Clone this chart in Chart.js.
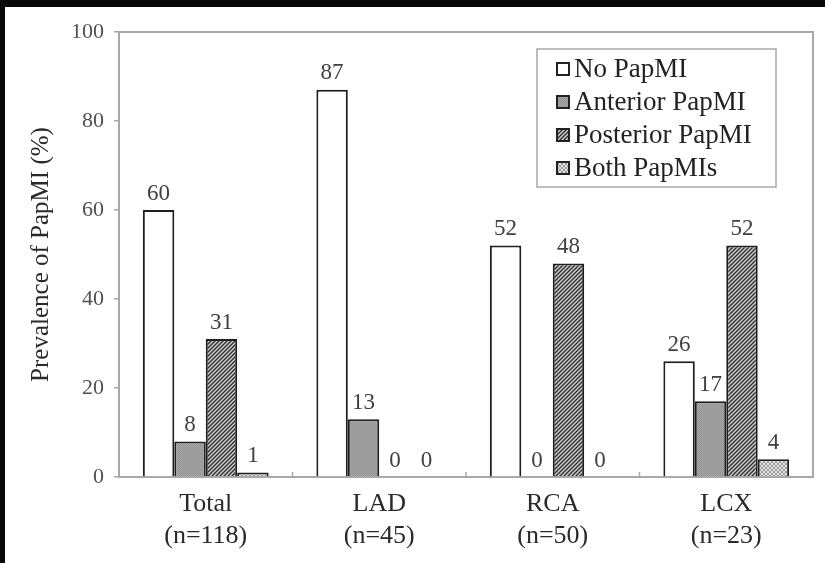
<!DOCTYPE html>
<html>
<head>
<meta charset="utf-8">
<script src="https://cdn.jsdelivr.net/npm/chart.js@4.4.1/dist/chart.umd.min.js"></script>
<style>
    html, body { margin: 0; padding: 0; background: #080808; }
    #wrap { position: absolute; left: 5px; top: 7px; width: 820px; height: 556px; background: #fff; }
</style>
</head>
<body>
<div id="wrap"><canvas id="chart" width="820" height="556"></canvas></div>
<script>
const categories = [['Total', '(n=118)'], ['LAD', '(n=45)'], ['RCA', '(n=50)'], ['LCX', '(n=23)']];
const noPapMI = [60, 87, 52, 26];
const anteriorPapMI = [8, 13, 0, 17];
const posteriorPapMI = [31, 0, 48, 52];
const bothPapMIs = [1, 0, 0, 4];
const yTicks = [0, 20, 40, 60, 80, 100];

const SERIF = "'Liberation Serif', 'Times New Roman', serif";

// small canvas patterns to stand in for the print textures
const makePattern = (size, paint) => {
    const c = document.createElement('canvas');
    c.width = size;
    c.height = size;
    paint(c.getContext('2d'), size);
    return c.getContext('2d').createPattern(c, 'repeat');
};

const grayFill = makePattern(2, (g) => {
    g.fillStyle = '#a4a4a4';
    g.fillRect(0, 0, 2, 2);
    g.fillStyle = '#959595';
    g.fillRect(0, 0, 1, 1);
    g.fillRect(1, 1, 1, 1);
});

const hatchFill = makePattern(4, (g, s) => {
    g.fillStyle = '#cfcfcf';
    g.fillRect(0, 0, s, s);
    g.strokeStyle = '#2e2e2e';
    g.lineWidth = 1.4;
    g.beginPath();
    g.moveTo(-1, s + 1);
    g.lineTo(s + 1, -1);
    g.moveTo(-1, 1);
    g.lineTo(1, -1);
    g.moveTo(s - 1, s + 1);
    g.lineTo(s + 1, s - 1);
    g.stroke();
});

const checkFill = makePattern(4, (g) => {
    g.fillStyle = '#e2e2e2';
    g.fillRect(0, 0, 4, 4);
    g.fillStyle = '#9c9c9c';
    g.fillRect(0, 0, 2, 2);
    g.fillRect(2, 2, 2, 2);
});

const seriesDefs = [
    { label: 'No PapMI', data: noPapMI, fill: '#ffffff' },
    { label: 'Anterior PapMI', data: anteriorPapMI, fill: grayFill },
    { label: 'Posterior PapMI', data: posteriorPapMI, fill: hatchFill },
    { label: 'Both PapMIs', data: bothPapMIs, fill: checkFill }
];

// frame on top/right plus the small category separators inside the bottom edge
const framePlugin = {
    id: 'frame',
    afterDraw(chart) {
        const { ctx, chartArea: a, scales } = chart;
        ctx.save();
        ctx.strokeStyle = '#a8a8a8';
        ctx.lineWidth = 2;
        ctx.beginPath();
        ctx.moveTo(a.left, a.top);
        ctx.lineTo(a.right, a.top);
        ctx.lineTo(a.right, a.bottom);
        ctx.stroke();
        const x = scales.x;
        const step = (a.right - a.left) / categories.length;
        ctx.lineWidth = 1.5;
        ctx.beginPath();
        for (let i = 1; i < categories.length; i++) {
            const px = x.getPixelForValue(i) - step / 2;
            ctx.moveTo(px, a.bottom);
            ctx.lineTo(px, a.bottom - 5);
        }
        ctx.stroke();
        ctx.restore();
    }
};

const valueLabelPlugin = {
    id: 'valueLabels',
    afterDatasetsDraw(chart) {
        const { ctx } = chart;
        ctx.save();
        ctx.font = `23px ${SERIF}`;
        ctx.fillStyle = '#404040';
        ctx.textAlign = 'center';
        ctx.textBaseline = 'bottom';
        chart.data.datasets.forEach((ds, di) => {
            chart.getDatasetMeta(di).data.forEach((bar, i) => {
                ctx.fillText(String(ds.data[i]), bar.x, bar.y - 5);
            });
        });
        ctx.restore();
    }
};

const boxLegendPlugin = {
    id: 'boxLegend',
    afterDraw(chart) {
        const { ctx, chartArea: a } = chart;
        const left = a.right - 276;
        const top = a.top + 17;
        ctx.save();
        ctx.fillStyle = '#ffffff';
        ctx.fillRect(left, top, 239, 138);
        ctx.strokeStyle = '#a8a8a8';
        ctx.lineWidth = 1.5;
        ctx.strokeRect(left, top, 239, 138);
        ctx.font = `27px ${SERIF}`;
        ctx.textBaseline = 'middle';
        chart.data.datasets.forEach((ds, i) => {
            const cy = top + 20 + i * 33;
            ctx.fillStyle = ds.backgroundColor;
            ctx.fillRect(left + 20, cy - 6, 12, 12);
            ctx.strokeStyle = '#222';
            ctx.lineWidth = 2;
            ctx.strokeRect(left + 20, cy - 6, 12, 12);
            ctx.fillStyle = '#222';
            ctx.fillText(ds.label, left + 37, cy + 1);
        });
        ctx.restore();
    }
};

new Chart(document.getElementById('chart'), {
    type: 'bar',
    data: {
        labels: categories,
        datasets: seriesDefs.map((s) => ({
            label: s.label,
            data: s.data,
            backgroundColor: s.fill,
            borderColor: '#1e1e1e',
            borderWidth: 2,
            categoryPercentage: 0.725,
            barPercentage: 1
        }))
    },
    options: {
        responsive: false,
        animation: false,
        layout: { padding: { top: 25, right: 12, left: 0, bottom: 0 } },
        plugins: {
            legend: { display: false },
            tooltip: { enabled: false }
        },
        scales: {
            x: {
                grid: { display: false },
                border: { color: '#a8a8a8', width: 2 },
                ticks: { color: '#2a2a2a', font: { family: SERIF, size: 26 }, padding: 4 },
                afterFit: (s) => { s.height = 86; }
            },
            y: {
                min: 0,
                max: 100,
                afterBuildTicks: (s) => { s.ticks = yTicks.map((v) => ({ value: v })); },
                grid: { drawOnChartArea: false, tickLength: 5, color: '#a8a8a8', lineWidth: 1.5 },
                border: { color: '#a8a8a8', width: 2 },
                ticks: { color: '#505050', font: { family: SERIF, size: 22 }, padding: 10 },
                title: {
                    display: true,
                    text: 'Prevalence of PapMI (%)',
                    color: '#2a2a2a',
                    font: { family: SERIF, size: 25 },
                    padding: { top: 21, bottom: 0 }
                },
                afterFit: (s) => { s.width = 114; }
            }
        }
    },
    plugins: [framePlugin, valueLabelPlugin, boxLegendPlugin]
});
</script>
</body>
</html>
